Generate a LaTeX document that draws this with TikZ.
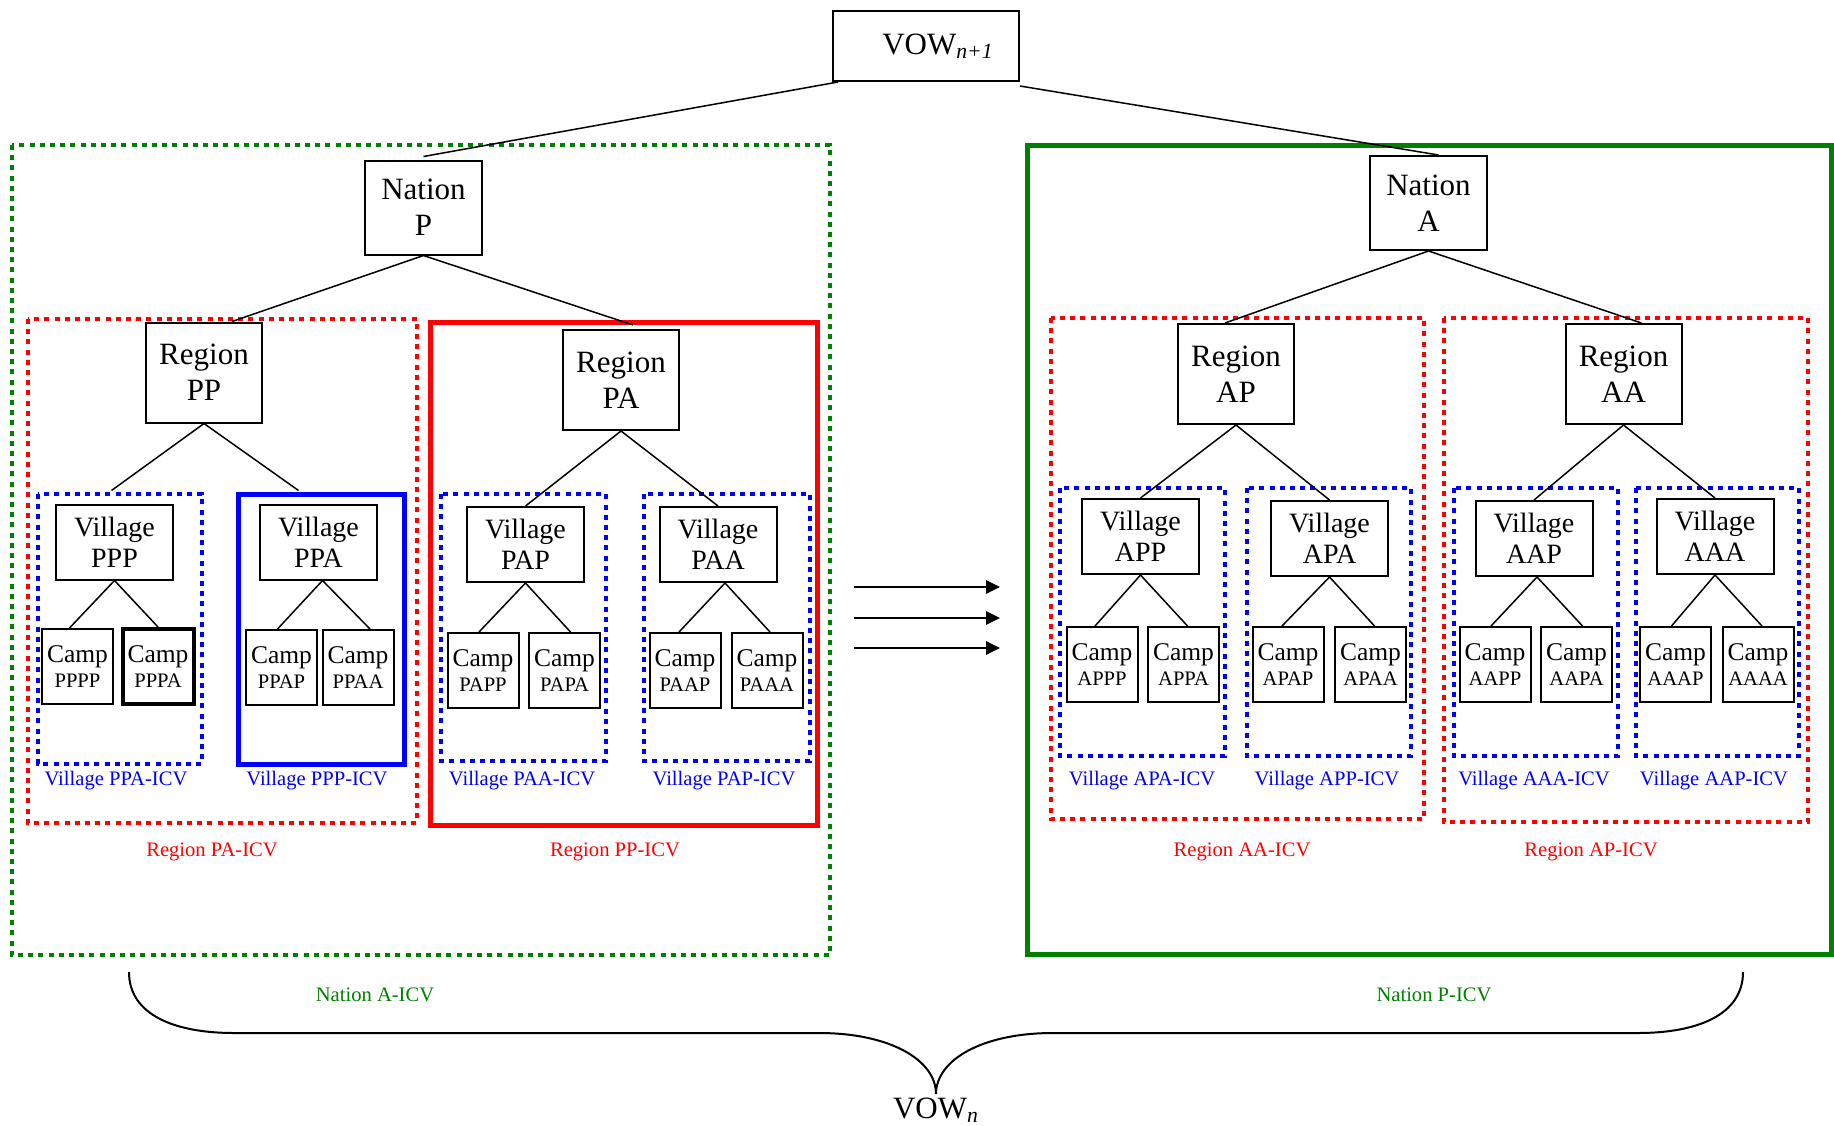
\documentclass[tikz,border=0pt]{standalone}
\usepackage{fontspec}
\setmainfont{Liberation Serif}
\usepackage{tikz}
\usepackage{xcolor}
\usetikzlibrary{arrows.meta,positioning}
\definecolor{nationcolor}{RGB}{0,128,0}
\definecolor{regioncolor}{RGB}{255,0,0}
\definecolor{villagecolor}{RGB}{0,0,255}
\newcommand{\codefont}{\fontsize{10.3}{12}\selectfont}

\begin{document}
\begin{tikzpicture}[
    x=0.5pt, y=-0.5pt,
    unitbox/.style={rectangle, draw, line width=1pt, align=center, inner sep=0pt},
    vowbox/.style={unitbox, minimum width=93pt, minimum height=35pt, font=\fontsize{15.5}{18}\selectfont},
    nationbox/.style={unitbox, minimum width=58.5pt, minimum height=47pt, font=\fontsize{15.5}{18}\selectfont},
    regionbox/.style={unitbox, minimum width=58pt, minimum height=50pt, font=\fontsize{15.5}{18}\selectfont},
    villagebox/.style={unitbox, minimum width=58.5pt, minimum height=37.5pt, font=\fontsize{14}{15.5}\selectfont},
    campbox/.style={unitbox, minimum width=35.5pt, minimum height=37.5pt, font=\fontsize{12.75}{12.5}\selectfont},
    link/.style={line width=0.75pt},
    arrow/.style={-{Triangle[length=7pt,width=6.5pt]}, line width=1.4pt},
    dotbox/.style={line width=2.4pt, dash pattern=on 2.5pt off 2.6pt},
    solidbox/.style={line width=2.5pt},
    icvlabel/.style={anchor=base, font=\fontsize{10.3}{12}\selectfont}
]
\useasboundingbox (0,0) rectangle (1834,1125);

% ICV boxes
\draw[dotbox, nationcolor] (12,145) rectangle (830,955);
\draw[solidbox, nationcolor] (1027,145) rectangle (1831,954);
\draw[dotbox, regioncolor] (28,319) rectangle (417,823);
\draw[solidbox, regioncolor] (430,322) rectangle (817,825);
\draw[dotbox, regioncolor] (1051,318) rectangle (1424,819);
\draw[dotbox, regioncolor] (1444,318) rectangle (1808,822);
\draw[dotbox, villagecolor, line width=2.2pt] (38,494) rectangle (202,764);
\draw[solidbox, villagecolor] (238,494) rectangle (404,764);
\draw[dotbox, villagecolor, line width=2.2pt] (441,494) rectangle (606,761);
\draw[dotbox, villagecolor, line width=2.2pt] (644,494) rectangle (810,761);
\draw[dotbox, villagecolor, line width=2.2pt] (1060,488) rectangle (1225,756);
\draw[dotbox, villagecolor, line width=2.2pt] (1247,488) rectangle (1411,756);
\draw[dotbox, villagecolor, line width=2.2pt] (1454,488) rectangle (1618,756);
\draw[dotbox, villagecolor, line width=2.2pt] (1636,488) rectangle (1799,756);

% Top level
\node[vowbox] (vow) at (926,46) {\hspace*{12pt}VOW\textsubscript{\textit{n+1}}};

% Nations
\node[nationbox] (np) at (423.5,207.5) {Nation\\P};
\node[nationbox] (na) at (1428.5,203) {Nation\\A};

% Regions
\node[regionbox] (rpp) at (204,372.5) {Region\\PP};
\node[regionbox] (rpa) at (621,380) {Region\\PA};
\node[regionbox] (rap) at (1236,374) {Region\\AP};
\node[regionbox] (raa) at (1623.5,374) {Region\\AA};

% Villages
\node[villagebox] (vppp) at (114.5,542) {Village\\PPP};
\node[villagebox] (vppa) at (318.5,542) {Village\\PPA};
\node[villagebox] (vpap) at (525.5,544.5) {Village\\PAP};
\node[villagebox] (vpaa) at (718,544.5) {Village\\PAA};
\node[villagebox] (vapp) at (1140.5,536.5) {Village\\APP};
\node[villagebox] (vapa) at (1329.5,538.5) {Village\\APA};
\node[villagebox] (vaap) at (1534,538.5) {Village\\AAP};
\node[villagebox] (vaaa) at (1715,536.5) {Village\\AAA};

% Camps
\node[campbox] (cpppp) at (77.5,666.5) {Camp\\\codefont PPPP};
\node[campbox, line width=2pt] (cpppa) at (158,666.5) {Camp\\\codefont PPPA};
\node[campbox] (cppap) at (281.5,667.5) {Camp\\\codefont PPAP};
\node[campbox] (cppaa) at (358,667.5) {Camp\\\codefont PPAA};
\node[campbox] (cpapp) at (483,670.5) {Camp\\\codefont PAPP};
\node[campbox] (cpapa) at (564.5,670.5) {Camp\\\codefont PAPA};
\node[campbox] (cpaap) at (685,670.5) {Camp\\\codefont PAAP};
\node[campbox] (cpaaa) at (767,670.5) {Camp\\\codefont PAAA};
\node[campbox] (capp) at (1102,664.5) {Camp\\\codefont APPP};
\node[campbox] (cappa) at (1183.5,664.5) {Camp\\\codefont APPA};
\node[campbox] (capap) at (1288,664.5) {Camp\\\codefont APAP};
\node[campbox] (capaa) at (1370.5,664.5) {Camp\\\codefont APAA};
\node[campbox] (caapp) at (1495,664.5) {Camp\\\codefont AAPP};
\node[campbox] (caapa) at (1576.5,664.5) {Camp\\\codefont AAPA};
\node[campbox] (caaap) at (1675.5,664.5) {Camp\\\codefont AAAP};
\node[campbox] (caaaa) at (1758,664.5) {Camp\\\codefont AAAA};

% Tree links
\draw[link] ([xshift=3pt]vow.south west) -- ([yshift=1.5pt]np.north);
\draw[link] ([yshift=-2pt]vow.south east) -- ([xshift=5pt]na.north);
\draw[link] (np.south) -- ([xshift=14pt]rpp.north);
\draw[link] (np.south) -- ([xshift=6pt,yshift=2pt]rpa.north);
\draw[link] (na.south) -- ([xshift=-5.5pt]rap.north);
\draw[link] (na.south) -- ([xshift=9pt]raa.north);
\draw[link] (rpp.south) -- ([xshift=-1.5pt,yshift=6.5pt]vppp.north);
\draw[link] (rpp.south) -- ([xshift=-10pt,yshift=6.5pt]vppa.north);
\draw[link] (rpa.south) -- (vpap.north);
\draw[link] (rpa.south) -- (vpaa.north);
\draw[link] (rap.south) -- (vapp.north);
\draw[link] (rap.south) -- (vapa.north);
\draw[link] (raa.south) -- (vaap.north);
\draw[link] (raa.south) -- (vaaa.north);
\draw[link] (vppp.south) -- ([xshift=-4pt]cpppp.north);
\draw[link] (vppp.south) -- (cpppa.north);
\draw[link] ([xshift=2pt]vppa.south) -- ([xshift=-2pt]cppap.north);
\draw[link] ([xshift=2pt]vppa.south) -- ([xshift=6pt]cppaa.north);
\draw[link] (vpap.south) -- ([xshift=-2pt]cpapp.north);
\draw[link] (vpap.south) -- ([xshift=3pt]cpapa.north);
\draw[link] ([xshift=3.5pt]vpaa.south) -- ([xshift=-3pt]cpaap.north);
\draw[link] ([xshift=3.5pt]vpaa.south) -- ([xshift=1.5pt]cpaaa.north);
\draw[link] (vapp.south) -- ([xshift=-3.5pt]capp.north);
\draw[link] (vapp.south) -- ([xshift=2pt]cappa.north);
\draw[link] (vapa.south) -- ([xshift=-3pt]capap.north);
\draw[link] (vapa.south) -- ([xshift=2pt]capaa.north);
\draw[link] ([xshift=1.5pt]vaap.south) -- ([xshift=-2pt]caapp.north);
\draw[link] ([xshift=1.5pt]vaap.south) -- ([xshift=3pt]caapa.north);
\draw[link] (vaaa.south) -- ([xshift=-2pt]caaap.north);
\draw[link] (vaaa.south) -- ([xshift=2pt]caaaa.north);

% Transition arrows
\coordinate (a1s) at (854,587);
\coordinate (a1e) at (1000,587);
\coordinate (a2s) at (854,618);
\coordinate (a2e) at (1000,618);
\coordinate (a3s) at (854,648);
\coordinate (a3e) at (1000,648);
\draw[arrow] (a1s) -- (a1e);
\draw[arrow] (a2s) -- (a2e);
\draw[arrow] (a3s) -- (a3e);

% ICV labels
\node[icvlabel, villagecolor] (lppa) at (116,785) {Village PPA-ICV};
\node[icvlabel, villagecolor] (lppp) at (317,785) {Village PPP-ICV};
\node[icvlabel, villagecolor] (lpaa) at (522,785) {Village PAA-ICV};
\node[icvlabel, villagecolor] (lpap) at (724,785) {Village PAP-ICV};
\node[icvlabel, villagecolor] (lapa) at (1142,785) {Village APA-ICV};
\node[icvlabel, villagecolor] (lapp) at (1327,785) {Village APP-ICV};
\node[icvlabel, villagecolor] (laaa) at (1534,785) {Village AAA-ICV};
\node[icvlabel, villagecolor] (laap) at (1714,785) {Village AAP-ICV};
\node[icvlabel, regioncolor] (lpa) at (212,856) {Region PA-ICV};
\node[icvlabel, regioncolor] (lpp) at (615,856) {Region PP-ICV};
\node[icvlabel, regioncolor] (laa) at (1242,856) {Region AA-ICV};
\node[icvlabel, regioncolor] (lap) at (1591,856) {Region AP-ICV};
\node[icvlabel, nationcolor] (lna) at (375,1001) {Nation A-ICV};
\node[icvlabel, nationcolor] (lnp) at (1434,1001) {Nation P-ICV};

% Brace to next level
\draw[line width=1pt] (129,972) .. controls (129,1015) and (175,1033) .. (234,1033)
    -- (819,1033) .. controls (890,1033) and (936,1060) .. (936,1094)
    .. controls (936,1060) and (982,1033) .. (1053,1033)
    -- (1638,1033) .. controls (1697,1033) and (1743,1015) .. (1743,972);
\node[anchor=base, font=\fontsize{15.5}{18}\selectfont] (vown) at (936,1118) {VOW\textsubscript{\textit{n}}};

\end{tikzpicture}
\end{document}
